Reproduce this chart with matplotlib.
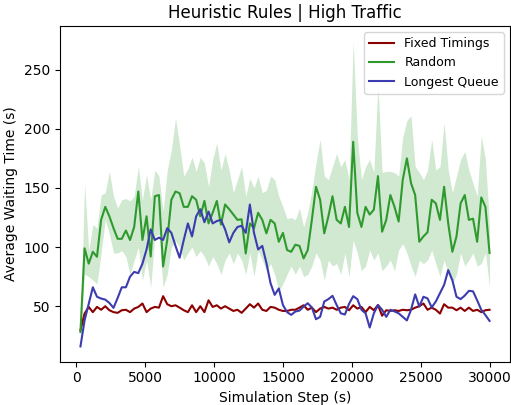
import numpy as np
import matplotlib
matplotlib.use("Agg")
import matplotlib.pyplot as plt

steps = np.arange(300, 30001, 300)

fixed = [29.7, 43.8, 49.4, 45, 49.4, 47, 50, 46.6, 45, 44.4,
         46.6, 47, 45, 48, 49.4, 52.3, 45, 48, 49.4, 48.8,
         58.5, 51.7, 50, 50.8, 48.8, 46.6, 45, 50.8, 45, 50,
         45, 55, 49.4, 50.8, 48, 50, 48, 46, 47, 44.4,
         48, 51.7, 48.8, 52.3, 47, 46, 49.4, 48.8, 47, 46,
         46, 47, 47, 48.8, 50.8, 47, 48.8, 45, 48, 49.4,
         48, 48.8, 47, 48.8, 49.4, 46.6, 50.8, 48, 49.4, 45,
         49.4, 46.6, 51, 42, 46.6, 46, 46.6, 46, 47, 46.6,
         47, 48.8, 50, 52.3, 47, 48.8, 47, 43.8, 51.7, 48.8,
         48.8, 46.6, 48.8, 46, 48.8, 46, 47, 45, 46.6, 47]

random_mean = [28.2, 98.9, 86, 96, 91.8, 123, 134, 126, 116, 107,
               107, 114, 106, 117, 147, 106, 126, 92, 143, 144,
               83.6, 106, 140, 147, 145.5, 134, 134, 143, 140, 126,
               139, 120, 129, 139, 119, 136, 132, 127.5, 123, 123.5,
               94.6, 120, 116, 129, 123, 111.6, 123, 120, 104.5, 112,
               97.5, 96, 102, 101, 90.4, 97.5, 123, 151, 140, 111.6,
               126, 143, 123, 120, 134, 117, 189, 129, 117, 134,
               127.5, 131.6, 160, 113, 123, 144, 134, 121.6, 157, 175,
               154, 144, 104.5, 109, 112.6, 140, 137, 123, 151, 120,
               96, 109, 137, 144, 123, 124, 104.5, 142, 134, 95]

random_upper = [32, 154, 97, 119, 116, 144, 146, 164, 143, 133,
                140, 141, 139, 143, 168, 140, 161, 140, 165, 160,
                130, 165, 182, 209, 186, 160, 166, 176, 164, 176,
                171, 151, 174, 188, 165, 179, 165, 146, 157, 168,
                143, 158, 150, 160, 146, 148, 160, 157, 143, 134,
                124, 125, 123, 133, 117, 129, 148, 171, 191, 160,
                157, 168, 179, 168, 174, 157, 274, 193, 157, 168,
                174, 163, 238, 163, 164, 164, 163, 160, 193, 207,
                211, 168, 163, 157, 165, 191, 165, 168, 205, 165,
                146, 160, 174, 181, 165, 154, 143, 194, 174, 118]

random_lower = [27, 77, 75, 72, 69, 95, 123, 111, 95, 95,
                97, 92, 77, 89, 100, 72, 89, 66, 109, 111,
                66, 77, 100, 105, 100, 89, 95, 100, 92, 97,
                92, 84, 92, 86, 77, 89, 95, 86, 95, 89,
                77, 95, 75, 97, 89, 80, 86, 77, 63, 69,
                77, 84, 77, 84, 75, 77, 84, 95, 89, 72,
                89, 84, 86, 77, 95, 75, 106, 95, 80, 84,
                97.5, 89, 95, 80, 84, 89, 80, 97.5, 103, 95,
                84, 75, 89, 86, 89, 97.5, 86, 75, 89, 77,
                69, 77, 95, 84, 89, 95, 84, 86, 95, 66]

longest = [16, 38, 52, 66, 58, 56.5, 55.6, 52.8, 48.6, 57,
           66, 66, 75, 79, 78, 86, 98, 115, 106, 108,
           106, 116, 112, 101, 91, 106, 120, 109, 126, 132,
           121, 130, 120, 122, 123, 115, 104, 112, 117, 118,
           112, 136, 112, 98, 101, 86.6, 69.5, 59.6, 65, 51,
           45, 42.7, 45.5, 46.3, 49.7, 52.5, 49, 39, 41, 54,
           56, 58.8, 51, 44, 43, 52, 58.5, 56, 47, 44,
           32, 44, 51, 47, 41, 47, 45.6, 44, 41, 38,
           47, 60, 49.7, 58, 56.6, 49, 54, 61, 68, 80.5,
           72, 58, 56, 59, 63, 62.6, 55, 47, 42.5, 37.6]

series_labels = ["Fixed Timings", "Random", "Longest Queue"]
title = "Heuristic Rules | High Traffic"
xlabel = "Simulation Step (s)"
ylabel = "Average Waiting Time (s)"

fig = plt.figure(figsize=(5.11, 4.05), dpi=100)
ax = fig.add_axes([60 / 511, 1 - 361.7 / 405, 450 / 511, (361.7 - 26) / 405])

ax.plot(steps, fixed, color="#8b0000", lw=1.5, label=series_labels[0])
ax.fill_between(steps, random_lower, random_upper, color="#2e9a2e", alpha=0.22, lw=0)
ax.plot(steps, random_mean, color="#2e9a2e", lw=1.5, label=series_labels[1])
ax.plot(steps, longest, color="#3c3cb0", lw=1.5, label=series_labels[2])

ax.set_title(title, fontsize=12)
ax.set_xlabel(xlabel, fontsize=10)
ax.set_ylabel(ylabel, fontsize=10)
ax.set_xticks([0, 5000, 10000, 15000, 20000, 25000, 30000])
ax.set_yticks([50, 100, 150, 200, 250])
ax.legend(loc="upper right", fontsize=9)

fig.savefig("out.png", dpi=100)
